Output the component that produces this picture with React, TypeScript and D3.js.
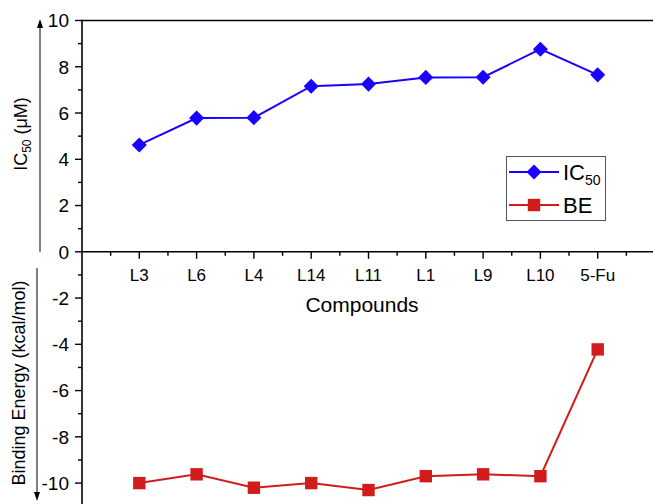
import React from 'react';
import * as d3 from 'd3';

const compounds = ['L3', 'L6', 'L4', 'L14', 'L11', 'L1', 'L9', 'L10', '5-Fu'];
const ic50 = [4.62, 5.78, 5.8, 7.16, 7.25, 7.54, 7.55, 8.76, 7.65];
const bindingEnergy = [-10.0, -9.62, -10.2, -10.0, -10.3, -9.7, -9.62, -9.7, -4.22];
const yTicks = [10, 8, 6, 4, 2, 0, -2, -4, -6, -8, -10];

const W = 653;
const H = 504;
const blue = '#1a00ff';
const red = '#d01c1c';
const font = 'Arial, "Liberation Sans", sans-serif';

export default function App() {
  const x = d3.scaleLinear().domain([0, 11]).range([82, 82 + 11 * 57.3]);
  const y = d3.scaleLinear().domain([10, -11]).range([20.5, 20.5 + 21 * 23.13]);

  const majorX = d3.range(1, 11);
  const minorX = d3.range(0.5, 11, 1);
  const minorY = d3.range(9, -12, -2);

  const line = d3.line<number>()
    .x((d, i) => x(i + 1))
    .y(d => y(d));

  const diamond = d3.symbol().type(d3.symbolDiamond2).size(2 * 8.5 * 8.5);
  const square = (cx: number, cy: number) =>
    <rect x={cx - 6.2} y={cy - 6.2} width={12.4} height={12.4} fill={red} />;

  const x0 = x(0);
  const y0 = y(0);

  return (
    <div style={{ position: 'absolute', left: 0, top: 0 }}>
      <svg width={W} height={H} style={{ display: 'block', fontFamily: font }}>
        <defs>
          <clipPath id="plot">
            <rect x={0} y={0} width={W} height={H} />
          </clipPath>
        </defs>
        <rect width={W} height={H} fill="#fff" />

        {/* frame + axes */}
        <line x1={x0} x2={W} y1={y(10)} y2={y(10)} stroke="#000" strokeWidth={1.6} />
        <line x1={x0} x2={x0} y1={y(10) - 0.8} y2={H} stroke="#000" strokeWidth={1.6} />
        <line x1={x0} x2={W} y1={y0} y2={y0} stroke="#000" strokeWidth={1.6} />

        {yTicks.map(t => (
          <g key={'y' + t}>
            <line x1={x0 - 7} x2={x0} y1={y(t)} y2={y(t)} stroke="#000" strokeWidth={1.4} />
            <text x={69} y={y(t)} dy="0.36em" textAnchor="end" fontSize={19}>{t}</text>
          </g>
        ))}
        {minorY.map(t => (
          <line key={'my' + t} x1={x0 - 4} x2={x0} y1={y(t)} y2={y(t)} stroke="#000" strokeWidth={1.4} />
        ))}

        {majorX.map(t => (
          <line key={'x' + t} x1={x(t)} x2={x(t)} y1={y0} y2={y0 + 7} stroke="#000" strokeWidth={1.4} />
        ))}
        {minorX.map(t => (
          <line key={'mx' + t} x1={x(t)} x2={x(t)} y1={y0} y2={y0 + 4} stroke="#000" strokeWidth={1.4} />
        ))}
        {compounds.map((c, i) => (
          <text key={c} x={x(i + 1)} y={281} textAnchor="middle" fontSize={17}>{c}</text>
        ))}
        <text x={362} y={312} textAnchor="middle" fontSize={21}>Compounds</text>

        {/* y labels with arrows */}
        <text transform="translate(27,134) rotate(-90)" textAnchor="middle" fontSize={18}>
          IC<tspan fontSize={12} dy={4}>50</tspan><tspan dy={-4}> (μM)</tspan>
        </text>
        <line x1={40} x2={40} y1={y0} y2={26} stroke="#000" strokeWidth={1} />
        <path d="M40,19 L37,28 L43,28 Z" fill="#000" />

        <text transform="translate(25,383) rotate(-90)" textAnchor="middle" fontSize={18}>
          Binding Energy (kcal/mol)
        </text>
        <line x1={37} x2={37} y1={268} y2={494} stroke="#000" strokeWidth={1} />
        <path d="M37,501 L34,492 L40,492 Z" fill="#000" />

        {/* series */}
        <g clipPath="url(#plot)">
          <path d={line(ic50) || ''} fill="none" stroke={blue} strokeWidth={2} />
          {ic50.map((v, i) => (
            <path key={'d' + i} d={diamond() || ''} transform={`translate(${x(i + 1)},${y(v)})`} fill={blue} />
          ))}
          <path d={line(bindingEnergy) || ''} fill="none" stroke={red} strokeWidth={2} />
          {bindingEnergy.map((v, i) => <g key={'s' + i}>{square(x(i + 1), y(v))}</g>)}
        </g>

        {/* legend */}
        <g>
          <rect x={506.5} y={156.5} width={99} height={64} fill="#fff" stroke="#555" strokeWidth={1} />
          <line x1={509} x2={559} y1={172} y2={172} stroke={blue} strokeWidth={2} />
          <path d={diamond() || ''} transform="translate(534,172)" fill={blue} />
          <text x={563} y={180} fontSize={22}>
            IC<tspan fontSize={14} dy={5}>50</tspan>
          </text>
          <line x1={509} x2={559} y1={205} y2={205} stroke={red} strokeWidth={2} />
          {square(534, 205)}
          <text x={563} y={213} fontSize={22}>BE</text>
        </g>
      </svg>
    </div>
  );
}
